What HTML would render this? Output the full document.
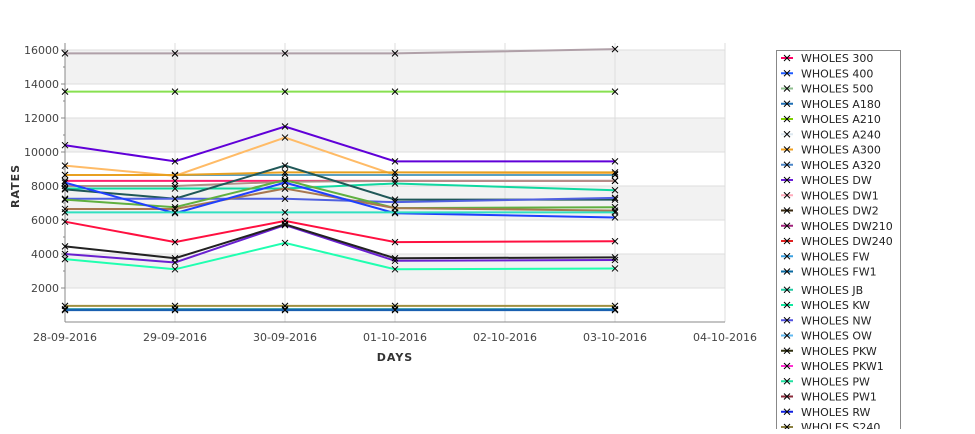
<!DOCTYPE html>
<html><head><meta charset="utf-8"><style>
body{margin:0;background:#fff;font-family:"Liberation Sans","DejaVu Sans",sans-serif;}
svg text{font-family:"DejaVu Sans","Liberation Sans",sans-serif;}
</style></head><body>
<svg id="chart" width="975" height="429" xmlns="http://www.w3.org/2000/svg">
<g id="bands"></g>
<g id="grid"></g>
<g id="axes"></g>
<g id="series"></g>
<text x="19" y="186" transform="rotate(-90 19 186)" text-anchor="middle" font-size="11" font-weight="bold" fill="#333" letter-spacing="1">RATES</text>
<text x="395" y="361" text-anchor="middle" font-size="11" font-weight="bold" fill="#333" letter-spacing="1">DAYS</text>
<rect x="776.5" y="50.5" width="124" height="390" fill="#fff" stroke="#888"/>
<g id="legend"></g>
</svg>
<script>
const xLabels=["28-09-2016","29-09-2016","30-09-2016","01-10-2016","02-10-2016","03-10-2016","04-10-2016"];
const yTicks=[2000,4000,6000,8000,10000,12000,14000,16000];
const pointDays=[0,1,2,3,5];
const seriesNames=["WHOLES 300","WHOLES 400","WHOLES 500","WHOLES A180","WHOLES A210","WHOLES A240","WHOLES A300","WHOLES A320","WHOLES DW","WHOLES DW1","WHOLES DW2","WHOLES DW210","WHOLES DW240","WHOLES FW","WHOLES FW1","WHOLES JB","WHOLES KW","WHOLES NW","WHOLES OW","WHOLES PKW","WHOLES PKW1","WHOLES PW","WHOLES PW1","WHOLES RW","WHOLES S240"];
const legendColors=["#ff0066","#1e5aff","#8fbf8f","#1e6eb4","#7fd000","#dde8f0","#f0a020","#4a86c8","#6a1ed8","#ffaabb","#3a2a10","#a0207a","#e02020","#3ca0e0","#0a6aa0","#20c8a0","#10e8a0","#5050e0","#60b8f0","#303010","#ff30d0","#20e0a0","#8a2a3a","#1020e0","#8a8040"];
// plotted series
const s_mauve=[15800,15800,15800,15800,16050];
const s_green=[13550,13550,13550,13550,13550];
const s_purple=[10400,9450,11500,9450,9450];
const s_lorange=[9200,8600,10850,8650,8700];
const s_orange=[8650,8650,8800,8800,8800];
const s_steel=[8650,8650,8650,8650,8650];
const s_pink=[8300,8300,8300,8300,8300];
const s_taupe=[8000,8000,8250,8300,8300];
const s_teal=[7850,7850,7850,8150,7750];
const s_slate=[7800,7250,9200,7200,7200];
const s_blue=[8200,6400,8200,6400,6150];
const s_peri=[7250,7250,7250,7050,7300];
const s_lgreen=[7200,6750,8350,6700,6750];
const s_brown=[6650,6650,7850,6700,6550];
const s_turq=[6450,6450,6450,6450,6450];
const s_red=[5900,4700,5950,4700,4750];
const s_black=[4450,3750,5750,3750,3800];
const s_violet=[4000,3500,5700,3600,3650];
const s_aqua=[3700,3100,4650,3100,3150];
const s_olive=[950,950,950,950,950];
const s_teal2=[750,750,750,750,750];
const s_navy=[700,700,700,700,700];
const plotSeries=[[s_mauve,"#b0a0a8","mauve"],[s_green,"#88e050","a210"],[s_lorange,"#ffbb66","dw1-orange"],[s_steel,"#5aa0c0","a320"],[s_orange,"#e8a020","a300"],[s_pink,"#ff2070","300"],[s_taupe,"#b09088","dw1"],[s_teal,"#10d8a0","kw"],[s_slate,"#205858","fw1"],[s_peri,"#5060e0","nw"],[s_lgreen,"#60b040","500"],[s_brown,"#a87850","s240"],[s_blue,"#2040ff","400"],[s_turq,"#30e0c0","jb"],[s_red,"#ff1040","dw240"],[s_violet,"#6a20d0","pkw1"],[s_black,"#222222","pkw"],[s_aqua,"#20ffb0","pw"],[s_purple,"#6000d8","dw"],[s_olive,"#a09040","olive"],[s_teal2,"#0a88a0","fw"],[s_navy,"#1a60b0","rw"]];
const X0=65,X1=725,Y0=322,YT=43;
function xs(i){return X0+i*(X1-X0)/6;}
function ys(v){return Y0-(v)*(Y0-288)/2000;}
const NS="http://www.w3.org/2000/svg";
function mk(t,a,p){const e=document.createElementNS(NS,t);for(const k in a)e.setAttribute(k,a[k]);p.appendChild(e);return e;}
const bands=document.getElementById('bands'),grid=document.getElementById('grid'),axes=document.getElementById('axes'),ser=document.getElementById('series'),leg=document.getElementById('legend');
mk('rect',{x:X0,y:YT,width:X1-X0,height:Y0-YT,fill:'#fff'},bands);
for(let v=2000;v<16000;v+=4000){const r=mk('rect',{x:X0,y:ys(v+2000),width:X1-X0,height:ys(v)-ys(v+2000),fill:'#f2f2f2'},bands);

}
yTicks.forEach(v=>{const l=mk('line',{x1:X0,x2:X1,y1:ys(v),y2:ys(v),stroke:'#ddd'},grid);


const t=mk('text',{x:X0-6,y:ys(v)+4,'text-anchor':'end','font-size':11,fill:'#444'},axes);t.textContent=v;


mk('line',{x1:X0-4,x2:X0,y1:ys(v),y2:ys(v),stroke:'#888'},axes);
mk('line',{x1:X0-2,x2:X0,y1:ys(v-1000),y2:ys(v-1000),stroke:'#888'},axes);});
xLabels.forEach((d,i)=>{if(i>0)mk('line',{x1:xs(i),x2:xs(i),y1:YT,y2:Y0,stroke:'#ddd'},grid);
const t=mk('text',{x:xs(i),y:Y0+19,'text-anchor':'middle','font-size':11,fill:'#444'},axes);t.textContent=d;

});
mk('line',{x1:X0,x2:X0,y1:YT,y2:Y0,stroke:'#888'},axes);
mk('line',{x1:X0,x2:X1,y1:Y0,y2:Y0,stroke:'#888'},axes);
plotSeries.forEach(([vals,c,n])=>{const pts=vals.map((v,i)=>xs(pointDays[i])+','+ys(v)).join(' ');
const p=mk('polyline',{points:pts,fill:'none',stroke:c,'stroke-width':2},ser);


vals.forEach((v,i)=>{const x=xs(pointDays[i]),y=ys(v);
const m=mk('path',{d:`M${x-3},${y-3}L${x+3},${y+3}M${x-3},${y+3}L${x+3},${y-3}`,stroke:'#000','stroke-width':1},ser);

});});
seriesNames.forEach((n,i)=>{const y=58+i*15.25+(i>=15?3:0);const c=legendColors[i];
const g=mk('g',{},leg);


mk('line',{x1:781,x2:793,y1:y,y2:y,stroke:c,'stroke-width':2},g);
mk('path',{d:`M784,${y-3}L790,${y+3}M784,${y+3}L790,${y-3}`,stroke:'#000'},g);
const t=mk('text',{x:801,y:y+4,'font-size':11,fill:'#222'},g);t.textContent=n;});
</script>
</body></html>
